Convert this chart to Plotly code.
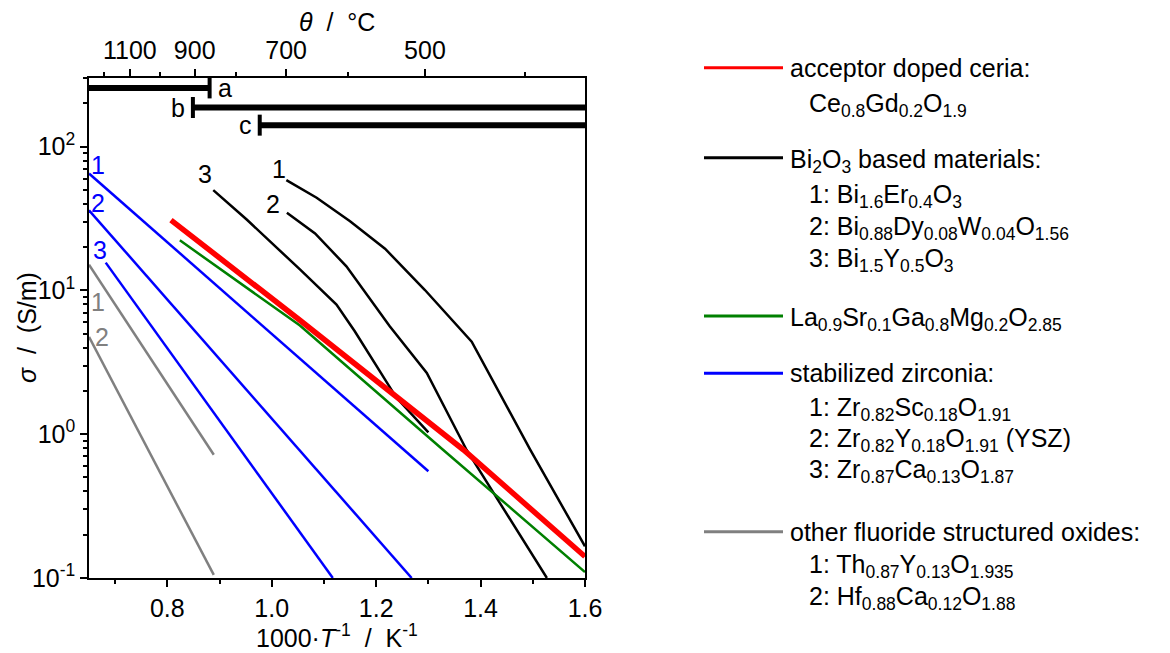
import plotly.graph_objects as go
import numpy as np

# ---------------- data ----------------
x_range = [0.65, 1.6]
y_range_log = [-1, np.log10(300)]

x_major = [0.8, 1.0, 1.2, 1.4, 1.6]
x_major_text = ["0.8", "1.0", "1.2", "1.4", "1.6"]
x_minor = [0.7, 0.9, 1.1, 1.3, 1.5]

y_major = [0.1, 1, 10, 100]
y_major_text = ["10<sup>-1</sup>", "10<sup>0</sup>", "10<sup>1</sup>", "10<sup>2</sup>"]
y_minor = [0.2, 0.3, 0.4, 0.5, 0.6, 0.7, 0.8, 0.9,
           2, 3, 4, 5, 6, 7, 8, 9,
           20, 30, 40, 50, 60, 70, 80, 90, 200, 300]

theta_major = [1100, 900, 700, 500]
theta_minor = [1200, 1000, 800, 600, 400]

# acceptor doped ceria
ceria_x = [0.807, 1.054, 1.367, 1.6]
ceria_s = [30.8, 6.2, 0.78, 0.141]

# LSGM
lsgm_x = [0.824, 1.054, 1.328, 1.431, 1.6]
lsgm_s = [22.3, 5.7, 0.78, 0.37, 0.110]

# Bi2O3 based
bi1_x = [1.028, 1.054, 1.086, 1.150, 1.217, 1.293, 1.383, 1.495, 1.6]
bi1_s = [58.5, 51.8, 44.1, 30.3, 19.5, 10.1, 4.4, 0.78, 0.166]
bi2_x = [1.029, 1.054, 1.083, 1.143, 1.226, 1.297, 1.373, 1.527]
bi2_s = [34.7, 29.9, 24.9, 14.7, 5.64, 2.67, 0.78, 0.1]
bi3_x = [0.888, 0.952, 1.054, 1.124, 1.159, 1.239, 1.300]
bi3_s = [49.8, 31.1, 14.0, 7.98, 5.2, 1.79, 1.03]

# stabilized zirconia
zr1_x = [0.65, 1.30]
zr1_s = [65.0, 0.552]
zr2_x = [0.65, 1.268]
zr2_s = [36.1, 0.1]
zr3_x = [0.682, 1.117]
zr3_s = [15.6, 0.1]

# other fluorite oxides
ot1_x = [0.65, 0.889]
ot1_s = [15.1, 0.72]
ot2_x = [0.65, 0.889]
ot2_s = [4.75, 0.105]

# temperature ranges a, b, c
range_names = ["a", "b", "c"]
range_x0 = [0.65, 0.849, 0.977]
range_x1 = [0.881, 1.6, 1.6]
range_level = [256, 187, 141]

# ---------------- styling ----------------
FONT = "Liberation Sans, Arial, sans-serif"
FS = 25
RED, BLACK, GREEN, BLUE, GRAY = "#ff0000", "#000000", "#008000", "#0000ff", "#808080"

# plot area in pixels
L, R, T, B = 89, 585, 78, 578
W, H = 1170, 653
PW, PH = R - L, B - T


def px_x(px):
    return (px - L) / PW


def px_y(py):
    return (B - py) / PH


fig = go.Figure()


def add_line(x, s, color, width):
    fig.add_trace(go.Scatter(x=x, y=s, mode="lines",
                             line=dict(color=color, width=width),
                             showlegend=False, hoverinfo="skip"))


for x, s in [(ot1_x, ot1_s), (ot2_x, ot2_s)]:
    add_line(x, s, GRAY, 2.5)
for x, s in [(zr1_x, zr1_s), (zr2_x, zr2_s), (zr3_x, zr3_s)]:
    add_line(x, s, BLUE, 2.5)
for x, s in [(bi1_x, bi1_s), (bi2_x, bi2_s), (bi3_x, bi3_s)]:
    add_line(x, s, BLACK, 2.5)
add_line(lsgm_x, lsgm_s, GREEN, 2.5)
add_line(ceria_x, ceria_s, RED, 5.5)

# temperature range bars
for i in range(3):
    fig.add_trace(go.Scatter(x=[range_x0[i], range_x1[i]], y=[range_level[i]] * 2,
                             mode="lines", line=dict(color=BLACK, width=6),
                             showlegend=False, hoverinfo="skip"))
cap_x = [range_x1[0], range_x0[1], range_x0[2]]
fig.add_trace(go.Scatter(x=cap_x, y=range_level, mode="markers",
                         marker=dict(symbol="line-ns", size=15,
                                     line=dict(color=BLACK, width=4)),
                         showlegend=False, hoverinfo="skip"))

# dummy trace for top axis
fig.add_trace(go.Scatter(x=[None], y=[None], xaxis="x2", showlegend=False))

annotations = []
# range labels
annotations.append(dict(x=range_x1[0], y=np.log10(range_level[0]), text="a",
                        xanchor="left", yanchor="middle", xshift=6, showarrow=False))
annotations.append(dict(x=range_x0[1], y=np.log10(range_level[1]), text="b",
                        xanchor="right", yanchor="middle", xshift=-6, showarrow=False))
annotations.append(dict(x=range_x0[2], y=np.log10(range_level[2]), text="c",
                        xanchor="right", yanchor="middle", xshift=-6, showarrow=False))

# curve labels (anchored at the first point of each curve)
curve_labels = [
    (zr1_x, zr1_s, "1", BLUE, 9, 9),
    (zr2_x, zr2_s, "2", BLUE, 9, 7),
    (zr3_x, zr3_s, "3", BLUE, -6, 13),
    (ot1_x, ot1_s, "1", GRAY, 9, -37),
    (ot2_x, ot2_s, "2", GRAY, 13, 0),
    (bi1_x, bi1_s, "1", BLACK, -7, 11),
    (bi2_x, bi2_s, "2", BLACK, -14, 9),
    (bi3_x, bi3_s, "3", BLACK, -8, 16),
]
for x, s, t, c, dx, dy in curve_labels:
    annotations.append(dict(x=x[0], y=np.log10(s[0]), text=t, font=dict(color=c, size=FS, family=FONT),
                            xanchor="center", yanchor="middle", xshift=dx, yshift=dy,
                            showarrow=False))

# axis titles
annotations.append(dict(xref="paper", yref="paper", x=0.5, y=px_y(636),
                        text="1000·<i>T</i><sup>-1</sup>  /  K<sup>-1</sup>",
                        xanchor="center", yanchor="middle", showarrow=False))
annotations.append(dict(xref="paper", yref="paper", x=0.5, y=px_y(22),
                        text="<i>θ</i>  /  °C",
                        xanchor="center", yanchor="middle", showarrow=False))
annotations.append(dict(xref="paper", yref="paper", x=px_x(27), y=0.5,
                        text="<i>σ</i>  /  (S/m)", textangle=-90,
                        xanchor="center", yanchor="middle", showarrow=False))

# legend (manual)
legend_rows = [
    (67.7, RED, "acceptor doped ceria:"),
    (101.7, None, "Ce<sub>0.8</sub>Gd<sub>0.2</sub>O<sub>1.9</sub>"),
    (157.7, BLACK, "Bi<sub>2</sub>O<sub>3</sub> based materials:"),
    (193, None, "1: Bi<sub>1.6</sub>Er<sub>0.4</sub>O<sub>3</sub>"),
    (225, None, "2: Bi<sub>0.88</sub>Dy<sub>0.08</sub>W<sub>0.04</sub>O<sub>1.56</sub>"),
    (256.7, None, "3: Bi<sub>1.5</sub>Y<sub>0.5</sub>O<sub>3</sub>"),
    (316, GREEN, "La<sub>0.9</sub>Sr<sub>0.1</sub>Ga<sub>0.8</sub>Mg<sub>0.2</sub>O<sub>2.85</sub>"),
    (373.3, BLUE, "stabilized zirconia:"),
    (406, None, "1: Zr<sub>0.82</sub>Sc<sub>0.18</sub>O<sub>1.91</sub>"),
    (437.3, None, "2: Zr<sub>0.82</sub>Y<sub>0.18</sub>O<sub>1.91</sub> (YSZ)"),
    (468.3, None, "3: Zr<sub>0.87</sub>Ca<sub>0.13</sub>O<sub>1.87</sub>"),
    (531.7, GRAY, "other fluoride structured oxides:"),
    (563.3, None, "1: Th<sub>0.87</sub>Y<sub>0.13</sub>O<sub>1.935</sub>"),
    (595, None, "2: Hf<sub>0.88</sub>Ca<sub>0.12</sub>O<sub>1.88</sub>"),
]
shapes = []
for py, col, txt in legend_rows:
    has_sub = "<sub>" in txt
    if col is not None:
        shapes.append(dict(type="line", xref="paper", yref="paper",
                           x0=px_x(704), x1=px_x(783), y0=px_y(py), y1=px_y(py),
                           line=dict(color=col, width=3)))
        tx = 788
    else:
        tx = 807
    annotations.append(dict(xref="paper", yref="paper", x=px_x(tx), y=px_y(py),
                            text=txt, xanchor="left", yanchor="middle",
                            yshift=-3 if has_sub else 0, showarrow=False))

axis_common = dict(showgrid=False, zeroline=False, showline=True, linecolor=BLACK,
                   linewidth=1.5, ticks="outside", tickcolor=BLACK, tickwidth=1.5,
                   ticklen=7, tickfont=dict(family=FONT, size=FS, color=BLACK))

fig.update_layout(
    width=W, height=H,
    margin=dict(l=L, r=W - R, t=T, b=H - B, autoexpand=False),
    paper_bgcolor="white", plot_bgcolor="white",
    font=dict(family=FONT, size=FS, color=BLACK),
    showlegend=False,
    xaxis=dict(range=x_range, tickvals=x_major, ticktext=x_major_text,
               minor=dict(tickvals=x_minor, ticks="outside", ticklen=4,
                          tickcolor=BLACK, tickwidth=1.5),
               mirror=True, **axis_common),
    xaxis2=dict(range=x_range, overlaying="x", side="top", anchor="y",
                tickvals=[1000 / (t + 273.15) for t in theta_major],
                ticktext=[str(t) for t in theta_major],
                minor=dict(tickvals=[1000 / (t + 273.15) for t in theta_minor],
                           ticks="outside", ticklen=4, tickcolor=BLACK, tickwidth=1.5),
                **axis_common),
    yaxis=dict(type="log", range=y_range_log, tickvals=y_major, ticktext=y_major_text,
               minor=dict(tickvals=y_minor, ticks="outside", ticklen=4,
                          tickcolor=BLACK, tickwidth=1.5),
               mirror=True, **axis_common),
    annotations=annotations,
    shapes=shapes,
)

fig.write_html("out.html")
